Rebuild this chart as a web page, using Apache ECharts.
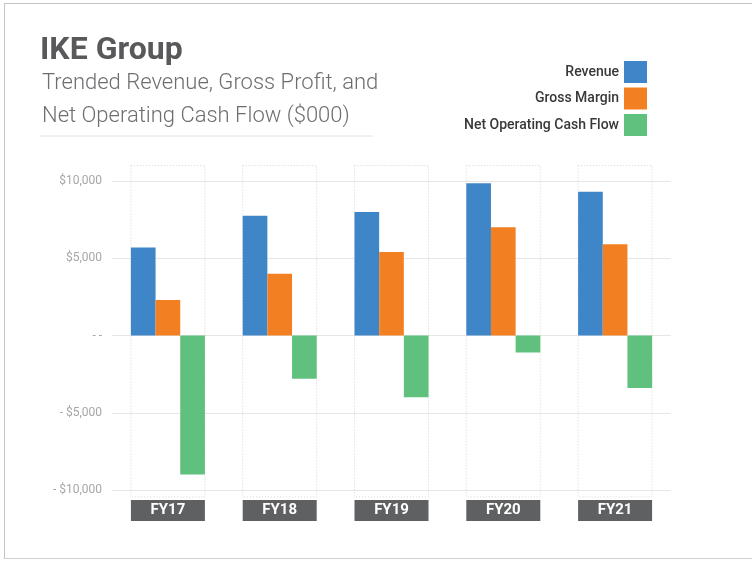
<!DOCTYPE html>
<html>
<head>
<meta charset="utf-8">
<script src="https://cdn.jsdelivr.net/npm/echarts@6/dist/echarts.min.js"></script>
<style>
  html, body { margin: 0; padding: 0; background: #fff; }
  #frame { position: absolute; left: 4px; top: 3px; width: 760px; height: 554px;
           border-top: 1px solid #c4c4c4; border-left: 1px solid #c4c4c4; border-bottom: 1px solid #d0d0d0; }
  #chart { position: absolute; left: 0; top: 0; width: 752px; height: 561px; }
</style>
</head>
<body>
<div id="frame"></div>
<div id="chart"></div>
<script>
// data ($000)
const years = ['FY17', 'FY18', 'FY19', 'FY20', 'FY21'];
const revenue = [5700, 7750, 8000, 9850, 9300];
const grossMargin = [2300, 4000, 5400, 7000, 5900];
const netCashFlow = [-9000, -2800, -4000, -1100, -3400];

const colors = ['#3f86c8', '#f28022', '#60c07e'];

function money(v) {
  if (v === 0) return '- -';
  const s = '$' + Math.abs(v).toLocaleString('en-US');
  return v < 0 ? '- ' + s : s;
}

const chart = echarts.init(document.getElementById('chart'));
chart.setOption({
  animation: false,
  textStyle: { fontFamily: 'Roboto' },
  title: [
    {
      text: 'IKE Group',
      left: 35, top: 30,
      textStyle: { fontFamily: 'Roboto', fontWeight: 'bold', fontSize: 32, color: '#58595b' }
    },
    {
      text: 'Trended Revenue, Gross Profit, and\nNet Operating Cash Flow ($000)',
      left: 37, top: 62,
      textStyle: { fontFamily: 'Roboto', fontWeight: 300, fontSize: 22, lineHeight: 33, color: '#6d6e71' }
    }
  ],
  graphic: [
    { type: 'line', shape: { x1: 40, y1: 136, x2: 373, y2: 136 }, style: { stroke: '#e2e2e2', lineWidth: 1 } }
  ],
  legend: {
    orient: 'vertical',
    right: 100, top: 56,
    align: 'right',
    icon: 'rect',
    itemWidth: 23, itemHeight: 22, itemGap: 4.5,
    data: ['Revenue', 'Gross Margin', 'Net Operating Cash Flow'],
    textStyle: { fontFamily: 'Roboto', fontWeight: 500, fontSize: 14, color: '#383838' }
  },
  grid: { left: 112, right: 81, top: 181, bottom: 71 },
  xAxis: {
    type: 'category',
    data: years,
    axisLine: { show: false },
    axisTick: { show: false },
    axisLabel: {
      margin: 10,
      width: 74,
      height: 21,
      lineHeight: 21,
      align: 'center',
      backgroundColor: '#5f6062',
      color: '#fff',
      fontWeight: 'bold',
      fontSize: 15
    }
  },
  yAxis: {
    type: 'value',
    min: -10000, max: 10000, interval: 5000,
    axisLine: { show: false },
    axisTick: { show: false },
    splitLine: { lineStyle: { color: '#e6e6e6', width: 1 } },
    axisLabel: {
      margin: 10,
      color: '#a6a6a6',
      fontSize: 12,
      formatter: v => money(v)
    }
  },
  series: [
    {
      // dotted frame around each year's group of bars
      type: 'custom',
      silent: true,
      clip: false,
      z: 1,
      data: years.map((y, i) => [i]),
      renderItem: function (params, api) {
        const band = api.size([1, 0])[0];
        const w = band * 0.662;
        const c = api.coord([api.value(0), 0]);
        const top = api.coord([api.value(0), 11000])[1];
        const bot = api.coord([api.value(0), -10450])[1];
        return {
          type: 'rect',
          shape: { x: c[0] - w / 2, y: top, width: w, height: bot - top },
          style: { fill: 'none', stroke: '#d4d4d4', lineWidth: 1, lineDash: [1, 2] }
        };
      }
    },
    { name: 'Revenue', type: 'bar', data: revenue, barGap: '0%', barCategoryGap: '33.8%', z: 3,
      itemStyle: { color: colors[0] } },
    { name: 'Gross Margin', type: 'bar', data: grossMargin, z: 3, itemStyle: { color: colors[1] } },
    { name: 'Net Operating Cash Flow', type: 'bar', data: netCashFlow, z: 3, itemStyle: { color: colors[2] } }
  ]
});
</script>
</body>
</html>
